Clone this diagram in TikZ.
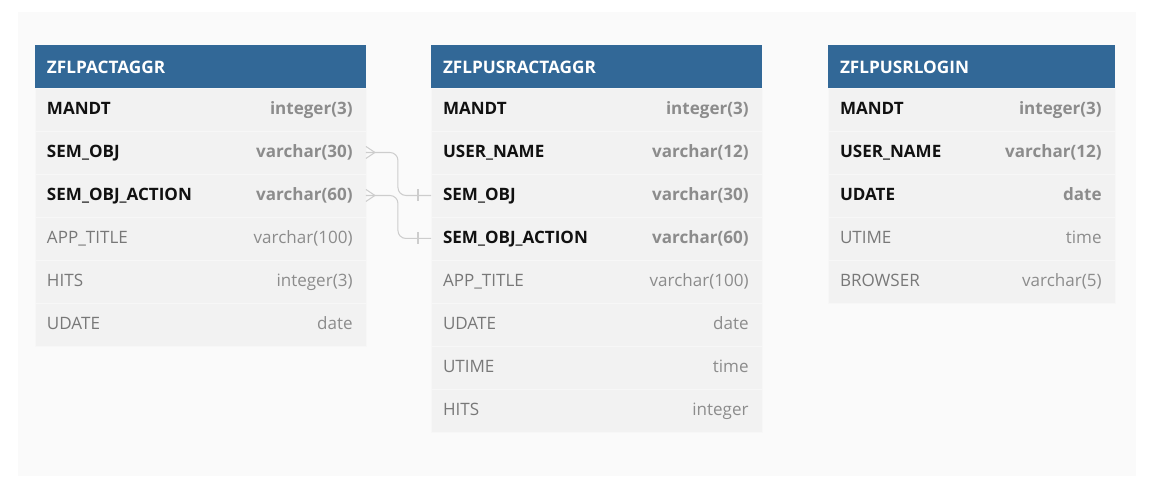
\documentclass[tikz,border=0pt]{standalone}
\usepackage{fontspec}
\setmainfont{Open Sans}
\usepackage{tikz}
\usetikzlibrary{
  positioning,
  calc
}
\definecolor{hdrblue}{RGB}{50,104,151}
\definecolor{canvas}{RGB}{250,250,250}
\definecolor{rowbg}{RGB}{242,242,242}
\definecolor{rowline}{RGB}{247,247,247}
\definecolor{keyname}{RGB}{17,17,17}
\definecolor{keytype}{RGB}{140,140,140}
\definecolor{plainname}{RGB}{120,120,120}
\definecolor{plaintype}{RGB}{140,140,140}
\definecolor{linkgray}{RGB}{205,205,205}

\begin{document}
\begin{tikzpicture}[
  x=0.02cm, y=-0.02cm,
  hdr/.style={
    fill=hdrblue, text=white, anchor=north west, outer sep=0pt,
    font=\fontsize{9.8}{11}\selectfont\bfseries,
    text width=#1, align=left, inner xsep=0.24cm, inner ysep=0pt,
    minimum height=0.86cm, text height=7.4pt, text depth=0pt
  },
  row/.style={
    fill=rowbg, draw=rowline, line width=0.4pt, outer sep=0pt,
    text width=#1, align=left, inner xsep=0.24cm, inner ysep=0pt,
    minimum height=0.86cm, text height=7pt, text depth=1pt
  },
  key/.style={font=\fontsize{9.7}{12}\selectfont\bfseries, text=keyname},
  plain/.style={font=\fontsize{9.7}{12}\selectfont, text=plainname},
  keyt/.style={font=\fontsize{9.7}{12}\selectfont\bfseries, text=keytype},
  plaint/.style={font=\fontsize{9.7}{12}\selectfont, text=plaintype},
  typ/.style={anchor=east, xshift=-0.26cm, inner sep=0pt, text height=7pt, text depth=1pt},
  link/.style={draw=linkgray, line width=0.6pt},
]

\useasboundingbox (0,0) rectangle (1152,477);
\fill[canvas] (18,12) rectangle (1136,476);

% ZFLPACTAGGR
\node[hdr=6.14cm] (pa0) at (35,45) {ZFLPACTAGGR};
\foreach \n/\t/\s [count=\i] in {
  MANDT/integer(3)/key,
  SEM\_OBJ/varchar(30)/key,
  SEM\_OBJ\_ACTION/varchar(60)/key,
  APP\_TITLE/varchar(100)/plain,
  HITS/integer(3)/plain,
  UDATE/date/plain}{
  \pgfmathtruncatemacro\p{\i-1}
  \node[row=6.14cm, \s, below=0pt of pa\p,
        label={[typ, \s t]east:\t}] (pa\i) {\n};
}

% ZFLPUSRACTAGGR
\node[hdr=6.14cm] (pua0) at (431,45) {ZFLPUSRACTAGGR};
\foreach \n/\t/\s [count=\i] in {
  MANDT/integer(3)/key,
  USER\_NAME/varchar(12)/key,
  SEM\_OBJ/varchar(30)/key,
  SEM\_OBJ\_ACTION/varchar(60)/key,
  APP\_TITLE/varchar(100)/plain,
  UDATE/date/plain,
  UTIME/time/plain,
  HITS/integer/plain}{
  \pgfmathtruncatemacro\p{\i-1}
  \node[row=6.14cm, \s, below=0pt of pua\p,
        label={[typ, \s t]east:\t}] (pua\i) {\n};
}

% ZFLPUSRLOGIN
\node[hdr=5.26cm] (pul0) at (828,45) {ZFLPUSRLOGIN};
\foreach \n/\t/\s [count=\i] in {
  MANDT/integer(3)/key,
  USER\_NAME/varchar(12)/key,
  UDATE/date/key,
  UTIME/time/plain,
  BROWSER/varchar(5)/plain}{
  \pgfmathtruncatemacro\p{\i-1}
  \node[row=5.26cm, \s, below=0pt of pul\p,
        label={[typ, \s t]east:\t}] (pul\i) {\n};
}

% references (many -> one)
\draw[link, rounded corners=0.16cm] (pa2.east) -- ++(32,0) |- (pua3.west);
\draw[link, rounded corners=0.16cm] (pa3.east) -- ++(32,0) |- (pua4.west);
\draw[link] ($(pa2.east)+(9,0)$) -- ($(pa2.east)+(0,-6)$)
            ($(pa2.east)+(9,0)$) -- ($(pa2.east)+(0,6)$);
\draw[link] ($(pa3.east)+(9,0)$) -- ($(pa3.east)+(0,-6)$)
            ($(pa3.east)+(9,0)$) -- ($(pa3.east)+(0,6)$);
\draw[link] ($(pua3.west)+(-13,-6)$) -- ($(pua3.west)+(-13,6)$);
\draw[link] ($(pua4.west)+(-13,-6)$) -- ($(pua4.west)+(-13,6)$);

\end{tikzpicture}
\end{document}
